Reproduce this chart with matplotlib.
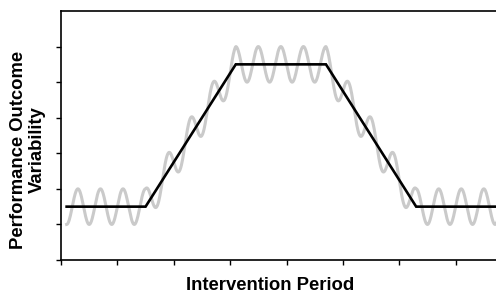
import numpy as np
import matplotlib
matplotlib.use('Agg')
import matplotlib.pyplot as plt

plt.rcParams['font.family'] = ['Liberation Sans', 'DejaVu Sans']

# Trend (black trapezoid) breakpoints
trend_x = [0.1, 1.5, 3.1, 4.7, 6.3, 8.0]
trend_y = [1.5, 1.5, 5.5, 5.5, 1.5, 1.5]

# Oscillation riding on the trend (grey curve)
osc_amplitude = 0.5
osc_period = 0.4

# Axis ticks (no labels)
x_ticks = [0, 1, 2, 3, 4, 5, 6, 7, 8]
y_ticks = [0, 1, 2, 3, 4, 5, 6]

W, H = 496, 294
fig = plt.figure(figsize=(W / 100, H / 100), dpi=100)
ax = fig.add_axes([61 / W, 34 / H, 451 / W, 249 / H])

gx = np.linspace(trend_x[0], trend_x[-1], 1200)
gy = np.interp(gx, trend_x, trend_y) - osc_amplitude * np.cos(2 * np.pi * (gx - trend_x[0]) / osc_period)

ax.plot(gx, gy, color='#cacaca', lw=2.2, zorder=2)
ax.plot(trend_x, trend_y, color='black', lw=1.9, zorder=3, solid_joinstyle='miter')

ax.set_xlim(0, 8)
ax.set_ylim(0, 7)
ax.set_xticks(x_ticks)
ax.set_yticks(y_ticks)
ax.set_xticklabels([])
ax.set_yticklabels([])
ax.tick_params(direction='out', length=3.5, width=1, color='black')
for s in ax.spines.values():
    s.set_linewidth(1.2)
    s.set_color('black')

fig.text(270 / W, 1 - 286 / H, 'Intervention Period', ha='center', va='center',
         fontsize=13.3, fontweight='bold')
fig.text(28 / W, 1 - 150 / H, 'Performance Outcome\nVariability', ha='center', va='center',
         rotation=90, multialignment='center', fontsize=13.3, fontweight='bold', linespacing=1.1)

fig.savefig('out.png', dpi=100)
